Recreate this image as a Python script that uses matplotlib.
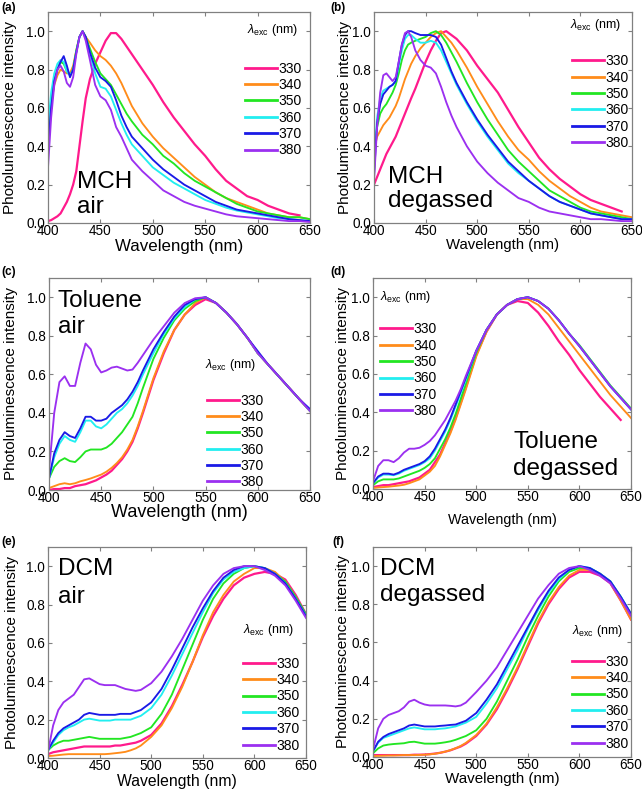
import numpy as np
import matplotlib
matplotlib.use("Agg")
import matplotlib.pyplot as plt

plt.rcParams['font.family'] = ['Liberation Sans', 'DejaVu Sans']
plt.rcParams['mathtext.fontset'] = 'custom'
plt.rcParams['mathtext.rm'] = 'Liberation Sans'
plt.rcParams['mathtext.it'] = 'Liberation Sans:italic'

nan = np.nan
W, H = 642, 790

EXC = ["330", "340", "350", "360", "370", "380"]
COLORS = ["#ff1a8c", "#ff8c1a", "#22e622", "#22eef0", "#1a1ae6", "#9b30f0"]

# ---------------- wavelength grids ----------------
WL_MCH = [400, 403, 406, 409, 412, 415, 418, 421, 424, 427, 430, 433, 436, 440, 445, 450, 455, 460,
          465, 470, 475, 480, 490, 500, 510, 520, 530, 540, 550, 560, 570, 580, 590, 600, 610, 620,
          630, 640, 650]
WL_SOL = [400, 405, 410, 415, 420, 425, 430, 435, 440, 445, 450, 455, 460, 465, 470, 475, 480, 485,
          490, 500, 510, 520, 530, 540, 550, 560, 570, 580, 590, 600, 610, 620, 630, 640, 650]

# ---------------- (a) MCH air ----------------
A_330 = [0.01, 0.015, 0.025, 0.035, 0.05, 0.08, 0.11, 0.15, 0.20, 0.27, 0.40, 0.53, 0.65, 0.75, 0.83, 0.89, 0.95, 0.99,
         0.99, 0.96, 0.92, 0.88, 0.80, 0.72, 0.63, 0.55, 0.48, 0.41, 0.35, 0.28, 0.22, 0.18, 0.14, 0.12, 0.09, 0.07,
         0.05, 0.04, nan]
A_340 = [0.45, 0.62, 0.72, 0.77, 0.80, 0.79, 0.78, 0.78, 0.82, 0.90, 0.97, 1.00, 0.97, 0.94, 0.90, 0.87, 0.85, 0.82,
         0.78, 0.73, 0.67, 0.61, 0.52, 0.45, 0.39, 0.34, 0.29, 0.24, 0.20, 0.16, 0.13, 0.11, 0.09, 0.07, 0.05, 0.04,
         0.03, 0.03, 0.02]
A_350 = [0.40, 0.62, 0.74, 0.80, 0.84, 0.83, 0.79, 0.77, 0.80, 0.90, 0.97, 1.00, 0.97, 0.91, 0.84, 0.78, 0.75, 0.72,
         0.67, 0.62, 0.57, 0.53, 0.46, 0.41, 0.35, 0.31, 0.26, 0.22, 0.19, 0.16, 0.13, 0.10, 0.08, 0.06, 0.05, 0.04,
         0.03, 0.03, 0.02]
A_360 = [0.50, 0.68, 0.78, 0.83, 0.85, 0.84, 0.79, 0.77, 0.80, 0.89, 0.97, 1.00, 0.96, 0.88, 0.78, 0.71, 0.70, 0.66,
         0.59, 0.52, 0.46, 0.41, 0.35, 0.29, 0.25, 0.21, 0.18, 0.15, 0.12, 0.10, 0.08, 0.065, 0.055, 0.045, 0.035, 0.025,
         0.02, 0.015, 0.01]
A_370 = [0.38, 0.60, 0.74, 0.80, 0.84, 0.87, 0.82, 0.76, 0.80, 0.89, 0.97, 1.00, 0.97, 0.89, 0.81, 0.76, 0.74, 0.71,
         0.64, 0.56, 0.50, 0.45, 0.39, 0.33, 0.28, 0.24, 0.20, 0.17, 0.14, 0.11, 0.09, 0.07, 0.06, 0.05, 0.04, 0.03,
         0.02, 0.015, 0.01]
A_380 = [0.29, 0.55, 0.72, 0.80, 0.82, 0.79, 0.73, 0.71, 0.76, 0.88, 0.97, 1.00, 0.95, 0.85, 0.72, 0.66, 0.64, 0.59,
         0.50, 0.45, 0.39, 0.33, 0.27, 0.22, 0.17, 0.14, 0.11, 0.09, 0.075, 0.06, 0.045, 0.035, 0.03, 0.025, 0.02, 0.015,
         0.01, 0.01, 0.005]

# ---------------- (b) MCH degassed ----------------
B_330 = [0.20, 0.24, 0.28, 0.32, 0.36, 0.39, 0.42, 0.45, 0.49, 0.53, 0.57, 0.61, 0.65, 0.70, 0.77, 0.84, 0.90, 0.95,
         0.99, 1.00, 0.98, 0.96, 0.90, 0.82, 0.75, 0.68, 0.59, 0.50, 0.42, 0.34, 0.28, 0.23, 0.19, 0.15, 0.12, 0.10,
         0.08, 0.06, nan]
B_340 = [0.38, 0.45, 0.48, 0.51, 0.53, 0.55, 0.58, 0.61, 0.65, 0.70, 0.75, 0.79, 0.83, 0.87, 0.91, 0.94, 0.97, 0.99,
         1.00, 0.97, 0.94, 0.90, 0.81, 0.71, 0.62, 0.53, 0.45, 0.38, 0.33, 0.27, 0.22, 0.18, 0.14, 0.11, 0.08, 0.06,
         0.05, 0.04, 0.03]
B_350 = [0.35, 0.50, 0.57, 0.60, 0.62, 0.65, 0.68, 0.72, 0.78, 0.85, 0.90, 0.93, 0.94, 0.95, 0.96, 0.97, 0.99, 1.00,
         0.98, 0.94, 0.89, 0.84, 0.73, 0.63, 0.54, 0.46, 0.38, 0.32, 0.27, 0.22, 0.17, 0.14, 0.11, 0.08, 0.06, 0.05,
         0.04, 0.03, 0.02]
B_360 = [0.30, 0.55, 0.65, 0.69, 0.70, 0.71, 0.72, 0.74, 0.82, 0.90, 0.96, 0.98, 0.98, 0.96, 0.94, 0.94, 0.95, 0.94,
         0.90, 0.84, 0.78, 0.72, 0.62, 0.53, 0.45, 0.38, 0.31, 0.26, 0.22, 0.18, 0.14, 0.11, 0.09, 0.07, 0.05, 0.04,
         0.03, 0.02, 0.02]
B_370 = [0.25, 0.52, 0.62, 0.67, 0.69, 0.71, 0.72, 0.74, 0.84, 0.93, 0.98, 1.00, 1.00, 0.99, 0.98, 0.98, 0.98, 0.97,
         0.93, 0.86, 0.79, 0.73, 0.63, 0.54, 0.46, 0.39, 0.32, 0.27, 0.22, 0.18, 0.14, 0.11, 0.09, 0.07, 0.05, 0.04,
         0.03, 0.02, 0.02]
B_380 = [0.22, 0.50, 0.68, 0.77, 0.78, 0.76, 0.74, 0.76, 0.84, 0.93, 0.99, 1.00, 0.97, 0.90, 0.85, 0.82, 0.81, 0.78,
         0.71, 0.63, 0.56, 0.50, 0.40, 0.32, 0.26, 0.21, 0.17, 0.13, 0.11, 0.08, 0.06, 0.05, 0.04, 0.03, 0.02, 0.02,
         0.015, 0.01, 0.01]

# ---------------- (c) Toluene air ----------------
C_330 = [0.0, 0.005, 0.005, 0.01, 0.01, 0.02, 0.025, 0.03, 0.04, 0.05, 0.065, 0.08, 0.10, 0.13, 0.16, 0.20, 0.25, 0.32,
         0.40, 0.57, 0.71, 0.83, 0.91, 0.96, 0.99, 0.97, 0.92, 0.86, 0.79, 0.71, 0.65, 0.59, 0.53, 0.47, 0.41]
C_340 = [0.01, 0.02, 0.03, 0.035, 0.03, 0.035, 0.045, 0.052, 0.06, 0.07, 0.08, 0.095, 0.115, 0.14, 0.17, 0.21, 0.26, 0.33,
         0.41, 0.58, 0.72, 0.83, 0.91, 0.97, 1.00, 0.97, 0.92, 0.86, 0.79, 0.71, 0.65, 0.59, 0.53, 0.47, 0.41]
C_350 = [0.06, 0.12, 0.15, 0.165, 0.15, 0.145, 0.17, 0.20, 0.21, 0.21, 0.21, 0.22, 0.24, 0.27, 0.30, 0.34, 0.38, 0.45,
         0.53, 0.68, 0.79, 0.88, 0.94, 0.98, 1.00, 0.97, 0.92, 0.86, 0.79, 0.71, 0.65, 0.59, 0.53, 0.47, 0.41]
C_360 = [0.06, 0.17, 0.24, 0.28, 0.26, 0.25, 0.30, 0.36, 0.36, 0.33, 0.32, 0.34, 0.37, 0.40, 0.42, 0.45, 0.49, 0.54,
         0.60, 0.71, 0.81, 0.89, 0.95, 0.99, 1.00, 0.97, 0.92, 0.86, 0.79, 0.71, 0.65, 0.59, 0.53, 0.47, 0.41]
C_370 = [0.06, 0.19, 0.26, 0.30, 0.28, 0.27, 0.32, 0.38, 0.38, 0.36, 0.36, 0.37, 0.40, 0.42, 0.44, 0.47, 0.51, 0.56,
         0.62, 0.73, 0.82, 0.90, 0.96, 0.99, 1.00, 0.97, 0.92, 0.86, 0.79, 0.72, 0.65, 0.59, 0.53, 0.47, 0.42]
C_380 = [0.10, 0.40, 0.56, 0.59, 0.54, 0.54, 0.66, 0.76, 0.73, 0.65, 0.61, 0.62, 0.635, 0.64, 0.63, 0.62, 0.625, 0.66,
         0.70, 0.78, 0.85, 0.92, 0.97, 0.995, 1.00, 0.97, 0.92, 0.86, 0.79, 0.71, 0.65, 0.59, 0.53, 0.47, 0.41]

# ---------------- (d) Toluene degassed ----------------
D_330 = [0.01, 0.015, 0.02, 0.02, 0.025, 0.03, 0.035, 0.04, 0.05, 0.06, 0.08, 0.10, 0.14, 0.18, 0.24, 0.30, 0.37, 0.45,
         0.53, 0.70, 0.82, 0.91, 0.96, 0.98, 0.97, 0.92, 0.85, 0.77, 0.70, 0.62, 0.55, 0.48, 0.42, 0.36, nan]
D_340 = [0.005, 0.008, 0.01, 0.012, 0.015, 0.018, 0.022, 0.03, 0.04, 0.05, 0.07, 0.09, 0.12, 0.17, 0.23, 0.29, 0.36, 0.44,
         0.52, 0.69, 0.82, 0.91, 0.96, 0.99, 0.99, 0.96, 0.91, 0.84, 0.77, 0.70, 0.63, 0.56, 0.49, 0.43, 0.37]
D_350 = [0.02, 0.04, 0.05, 0.05, 0.05, 0.055, 0.065, 0.075, 0.085, 0.095, 0.11, 0.13, 0.16, 0.21, 0.26, 0.32, 0.39, 0.47,
         0.55, 0.71, 0.83, 0.91, 0.96, 0.99, 1.00, 0.98, 0.94, 0.88, 0.81, 0.75, 0.68, 0.61, 0.54, 0.48, 0.42]
D_360 = [0.03, 0.06, 0.075, 0.075, 0.072, 0.08, 0.095, 0.105, 0.115, 0.125, 0.14, 0.16, 0.20, 0.25, 0.30, 0.36, 0.43, 0.50,
         0.57, 0.72, 0.83, 0.91, 0.96, 0.99, 1.00, 0.98, 0.94, 0.88, 0.81, 0.745, 0.675, 0.605, 0.535, 0.475, 0.415]
D_370 = [0.03, 0.065, 0.08, 0.08, 0.075, 0.085, 0.10, 0.11, 0.12, 0.13, 0.145, 0.17, 0.21, 0.26, 0.31, 0.37, 0.44, 0.51,
         0.58, 0.72, 0.83, 0.91, 0.96, 0.99, 1.00, 0.98, 0.94, 0.88, 0.81, 0.745, 0.675, 0.605, 0.535, 0.475, 0.415]
D_380 = [0.04, 0.12, 0.15, 0.15, 0.14, 0.16, 0.19, 0.21, 0.21, 0.215, 0.23, 0.25, 0.28, 0.32, 0.36, 0.41, 0.46, 0.52,
         0.59, 0.72, 0.83, 0.91, 0.96, 0.99, 1.00, 0.98, 0.94, 0.88, 0.81, 0.745, 0.675, 0.605, 0.535, 0.475, 0.415]

# ---------------- (e) DCM air ----------------
E_330 = [0.02, 0.03, 0.035, 0.04, 0.045, 0.05, 0.055, 0.06, 0.06, 0.06, 0.06, 0.06, 0.06, 0.065, 0.065, 0.07, 0.075, 0.08,
         0.09, 0.12, 0.18, 0.27, 0.38, 0.50, 0.63, 0.74, 0.83, 0.90, 0.94, 0.96, 0.97, 0.96, 0.93, 0.85, 0.75]
E_340 = [0.01, 0.012, 0.015, 0.018, 0.02, 0.02, 0.02, 0.02, 0.02, 0.02, 0.02, 0.02, 0.022, 0.025, 0.028, 0.032, 0.04, 0.05,
         0.065, 0.11, 0.17, 0.26, 0.37, 0.50, 0.64, 0.76, 0.85, 0.92, 0.96, 0.99, 0.99, 0.97, 0.92, 0.84, 0.74]
E_350 = [0.04, 0.065, 0.08, 0.09, 0.09, 0.095, 0.10, 0.105, 0.11, 0.105, 0.10, 0.10, 0.10, 0.10, 0.10, 0.105, 0.11, 0.12,
         0.13, 0.16, 0.23, 0.33, 0.46, 0.59, 0.72, 0.83, 0.91, 0.96, 0.99, 1.00, 0.99, 0.96, 0.92, 0.84, 0.75]
E_360 = [0.04, 0.08, 0.12, 0.145, 0.16, 0.17, 0.185, 0.20, 0.205, 0.20, 0.195, 0.195, 0.195, 0.20, 0.20, 0.20, 0.20, 0.21,
         0.22, 0.26, 0.33, 0.43, 0.54, 0.65, 0.76, 0.86, 0.93, 0.97, 0.99, 1.00, 0.99, 0.96, 0.91, 0.83, 0.74]
E_370 = [0.04, 0.09, 0.13, 0.155, 0.17, 0.185, 0.20, 0.225, 0.235, 0.23, 0.225, 0.225, 0.225, 0.225, 0.23, 0.23, 0.23, 0.24,
         0.25, 0.29, 0.36, 0.46, 0.57, 0.68, 0.78, 0.87, 0.94, 0.98, 1.00, 1.00, 0.99, 0.96, 0.91, 0.83, 0.74]
E_380 = [0.035, 0.17, 0.25, 0.29, 0.31, 0.33, 0.37, 0.41, 0.415, 0.40, 0.385, 0.38, 0.38, 0.38, 0.37, 0.36, 0.355, 0.35,
         0.355, 0.39, 0.45, 0.53, 0.62, 0.72, 0.82, 0.90, 0.96, 0.99, 1.00, 1.00, 0.98, 0.95, 0.90, 0.82, 0.73]

# ---------------- (f) DCM degassed ----------------
F_330 = [0.01, 0.01, 0.01, 0.01, 0.01, 0.01, 0.01, 0.01, 0.012, 0.012, 0.013, 0.015, 0.018, 0.022, 0.028, 0.035, 0.045, 0.055,
         0.07, 0.11, 0.17, 0.25, 0.35, 0.46, 0.58, 0.70, 0.80, 0.88, 0.94, 0.97, 0.97, 0.95, 0.91, 0.82, 0.72]
F_340 = [0.005, 0.006, 0.007, 0.008, 0.008, 0.009, 0.01, 0.01, 0.01, 0.011, 0.012, 0.014, 0.017, 0.022, 0.028, 0.036, 0.046, 0.058,
         0.074, 0.115, 0.175, 0.26, 0.36, 0.47, 0.59, 0.71, 0.81, 0.89, 0.95, 0.98, 0.98, 0.96, 0.91, 0.82, 0.72]
F_350 = [0.02, 0.045, 0.06, 0.065, 0.068, 0.07, 0.072, 0.078, 0.08, 0.075, 0.07, 0.07, 0.07, 0.073, 0.077, 0.082, 0.09, 0.10,
         0.11, 0.14, 0.20, 0.29, 0.40, 0.51, 0.63, 0.74, 0.84, 0.92, 0.97, 0.99, 0.99, 0.96, 0.92, 0.84, 0.75]
F_360 = [0.03, 0.075, 0.10, 0.11, 0.12, 0.13, 0.14, 0.15, 0.155, 0.15, 0.145, 0.145, 0.145, 0.148, 0.15, 0.155, 0.16, 0.17,
         0.18, 0.21, 0.28, 0.36, 0.46, 0.56, 0.67, 0.77, 0.86, 0.93, 0.98, 1.00, 0.99, 0.96, 0.92, 0.84, 0.75]
F_370 = [0.03, 0.08, 0.105, 0.12, 0.13, 0.14, 0.15, 0.165, 0.17, 0.165, 0.16, 0.16, 0.16, 0.163, 0.165, 0.168, 0.17, 0.18,
         0.19, 0.23, 0.30, 0.38, 0.48, 0.58, 0.68, 0.78, 0.87, 0.94, 0.98, 1.00, 0.99, 0.96, 0.92, 0.84, 0.75]
F_380 = [0.04, 0.15, 0.20, 0.22, 0.23, 0.24, 0.26, 0.29, 0.30, 0.285, 0.275, 0.27, 0.27, 0.27, 0.27, 0.268, 0.265, 0.27,
         0.285, 0.34, 0.40, 0.47, 0.56, 0.65, 0.74, 0.83, 0.90, 0.96, 0.99, 1.00, 0.98, 0.95, 0.91, 0.83, 0.74]

PANELS = [
    dict(tag="(a)", wl=WL_MCH, series=[A_330, A_340, A_350, A_360, A_370, A_380], solvent=("MCH", "air")),
    dict(tag="(b)", wl=WL_MCH, series=[B_330, B_340, B_350, B_360, B_370, B_380], solvent=("MCH", "degassed")),
    dict(tag="(c)", wl=WL_SOL, series=[C_330, C_340, C_350, C_360, C_370, C_380], solvent=("Toluene", "air")),
    dict(tag="(d)", wl=WL_SOL, series=[D_330, D_340, D_350, D_360, D_370, D_380], solvent=("Toluene", "degassed")),
    dict(tag="(e)", wl=WL_SOL, series=[E_330, E_340, E_350, E_360, E_370, E_380], solvent=("DCM", "air")),
    dict(tag="(f)", wl=WL_SOL, series=[F_330, F_340, F_350, F_360, F_370, F_380], solvent=("DCM", "degassed")),
]

# ---------------- layout (pixels) ----------------
AX_BOX = [(48, 310, 12, 223), (374, 632, 12, 223), (49, 310, 278, 490),
          (373, 631, 278, 489), (48, 306, 547, 758), (373, 631, 547, 757)]
LEG_ANCHOR = [(0.752, 0.765), (0.767, 0.80), (0.605, 0.455), (0.027, 0.79), (0.756, 0.48), (0.771, 0.487)]
TITLE_POS = [(0.76, 0.915), (0.76, 0.938), (0.598, 0.59), (0.027, 0.91), (0.756, 0.607), (0.771, 0.60)]
SOLV_POS = [((77, 188), (77, 213)), ((388, 183), (388, 207)), ((58, 307), (58, 333)),
            ((513, 448), (513, 475)), ((58, 575), (58, 603)), ((380, 575), (380, 601))]
TAG_POS = [(1, 11), (330, 11), (1, 275), (330, 275), (1, 545), (332, 545)]
YLAB_X = [-0.118, -0.085, -0.12, -0.089, -0.112, -0.089]
XLAB_Y = [-0.078, -0.07, -0.068, -0.114, -0.078, -0.073]
XLAB_FS = [12.2, 10.7, 13.0, 10.3, 11.3, 10.9]

fig = plt.figure(figsize=(W / 100, H / 100), dpi=100)
SPINE = "#808080"

for i, p in enumerate(PANELS):
    l, r, t, b = AX_BOX[i]
    ax = fig.add_axes([l / W, 1 - b / H, (r - l) / W, (b - t) / H])
    handles = []
    for k, (vals, c) in enumerate(zip(p["series"], COLORS)):
        ln, = ax.plot(p["wl"], vals, color=c, lw=1.6 if k == 0 else 1.35, label=EXC[k])
        handles.append(ln)
    ax.set_xlim(400, 650)
    ax.set_ylim(0, 1.1)
    ax.set_xticks([400, 450, 500, 550, 600, 650])
    ax.set_yticks([0.0, 0.2, 0.4, 0.6, 0.8, 1.0])
    ax.set_yticklabels(["0.0", "0.2", "0.4", "0.6", "0.8", "1.0"])
    ax.tick_params(direction="in", length=3, width=0.8, color=SPINE, labelsize=9.8,
                   top=True, right=True)
    ax.tick_params(axis="x", pad=1)
    ax.tick_params(axis="y", pad=2)
    for s in ax.spines.values():
        s.set_color(SPINE)
        s.set_linewidth(0.9)
    ax.set_xlabel("Wavelength (nm)", fontsize=XLAB_FS[i])
    ax.xaxis.set_label_coords(0.5, XLAB_Y[i])
    ax.set_ylabel("Photoluminescence intensity", fontsize=11)
    ax.yaxis.set_label_coords(YLAB_X[i], 0.5)

    leg = ax.legend(handles=handles, loc="upper left", bbox_to_anchor=LEG_ANCHOR[i],
                    frameon=False, fontsize=10, handlelength=2.3, handletextpad=0.1,
                    labelspacing=0.17, borderpad=0, borderaxespad=0)
    for lh in leg.get_lines():
        lh.set_linewidth(2.0)
    tx, ty = TITLE_POS[i]
    ax.text(tx, ty, r"$\lambda_{\mathrm{exc}}$ (nm)", transform=ax.transAxes,
            fontsize=9, ha="left", va="center")

    for (sx, sy), word in zip(SOLV_POS[i], p["solvent"]):
        fig.text(sx / W, 1 - sy / H, word, fontsize=17.5, ha="left", va="baseline")
    gx, gy = TAG_POS[i]
    fig.text(gx / W, 1 - gy / H, p["tag"], fontsize=8.5, fontweight="bold", ha="left", va="baseline")

fig.savefig("out.png", dpi=100)
